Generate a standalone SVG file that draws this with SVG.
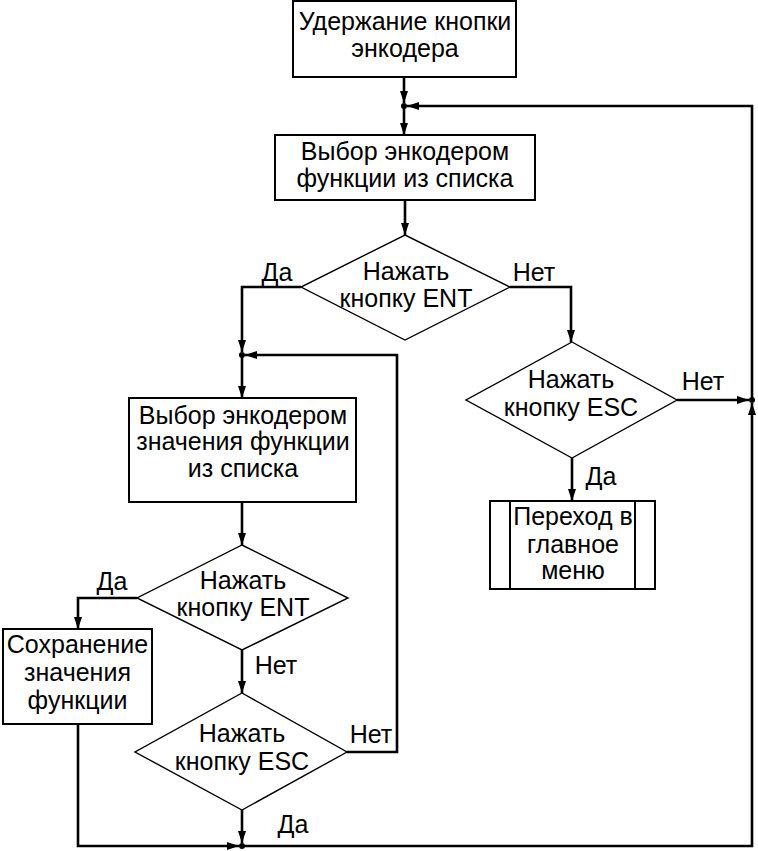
<svg xmlns="http://www.w3.org/2000/svg" width="758" height="851" viewBox="0 0 758 851">
<style>
text{font-family:"Liberation Sans",Arial,sans-serif;font-size:25px;fill:#000;text-anchor:middle}
.box{fill:#fff;stroke:#000;stroke-width:2}
.dia{fill:#fff;stroke:#000;stroke-width:1.4}
.c{fill:none;stroke:#000;stroke-width:2.6}
.a{marker-end:url(#ah)}
.dot{fill:#000}
</style>
<defs>
<marker id="ah" viewBox="0 0 12 8" markerWidth="12" markerHeight="8" markerUnits="userSpaceOnUse" refX="12" refY="4" orient="auto">
<path d="M0,0 L12,4 L0,8 z" fill="#000"/>
</marker>
</defs>
<rect width="758" height="851" fill="#fff"/>
<g id="connectors">
<path class="c a" d="M404,77 V103"/>
<path class="c a" d="M404,106 V135"/>
<path class="c a" d="M752,400 V106 H407"/>
<path class="c a" d="M405,200 V235"/>
<path class="c a" d="M301,287 H242 V352"/>
<path class="c a" d="M347,752 H397 V355 H245"/>
<path class="c a" d="M242,355 V398"/>
<path class="c a" d="M242,502 V545"/>
<path class="c a" d="M137,598 H78 V629"/>
<path class="c a" d="M242,650 V693"/>
<path class="c a" d="M242,810 V843"/>
<path class="c a" d="M78,724 V846 H239"/>
<path class="c a" d="M242,846 H752 V403"/>
<path class="c a" d="M510,287 H571 V342"/>
<path class="c a" d="M677,400 H749"/>
<path class="c a" d="M572,458 V501"/>
<circle class="dot" cx="404" cy="106" r="3"/>
<circle class="dot" cx="242" cy="355" r="3"/>
<circle class="dot" cx="752" cy="400" r="3"/>
<circle class="dot" cx="242" cy="846" r="3"/>
<text x="277" y="281">Да</text>
<text x="534" y="281">Нет</text>
<text x="703" y="390">Нет</text>
<text x="601" y="485">Да</text>
<text x="112" y="590">Да</text>
<text x="276" y="674">Нет</text>
<text x="371" y="743">Нет</text>
<text x="293" y="833">Да</text>
</g>
<g id="n1">
<rect class="box" x="293" y="1" width="223" height="76"/>
<text x="405" y="30">Удержание кнопки</text>
<text x="405" y="57">энкодера</text>
</g>
<g id="n2">
<rect class="box" x="275" y="135" width="260" height="65"/>
<text x="405" y="160">Выбор энкодером</text>
<text x="405" y="187">функции из списка</text>
</g>
<g id="d1">
<polygon class="dia" points="405,235 510,287 405,340 301,287"/>
<text x="406" y="280">Нажать</text>
<text x="406" y="307">кнопку ENT</text>
</g>
<g id="d2">
<polygon class="dia" points="572,342 677,400 572,458 466,400"/>
<text x="571" y="388">Нажать</text>
<text x="571" y="416">кнопку ESC</text>
</g>
<g id="n5">
<rect class="box" x="490" y="501" width="165" height="88"/>
<line x1="510" y1="501" x2="510" y2="589" stroke="#000" stroke-width="2"/>
<line x1="635" y1="501" x2="635" y2="589" stroke="#000" stroke-width="2"/>
<text x="573" y="525">Переход в</text>
<text x="573" y="553">главное</text>
<text x="573" y="579">меню</text>
</g>
<g id="n3">
<rect class="box" x="129" y="398" width="227" height="104"/>
<text x="243" y="424">Выбор энкодером</text>
<text x="243" y="450">значения функции</text>
<text x="243" y="477">из списка</text>
</g>
<g id="d3">
<polygon class="dia" points="242,545 348,598 242,650 137,598"/>
<text x="243" y="589">Нажать</text>
<text x="243" y="616">кнопку ENT</text>
</g>
<g id="n4">
<rect class="box" x="3" y="629" width="149" height="95"/>
<text x="77.5" y="653">Сохранение</text>
<text x="77.5" y="681">значения</text>
<text x="77.5" y="709">функции</text>
</g>
<g id="d4">
<polygon class="dia" points="242,693 347,752 242,810 135,752"/>
<text x="242" y="742">Нажать</text>
<text x="242" y="770">кнопку ESC</text>
</g>
</svg>
